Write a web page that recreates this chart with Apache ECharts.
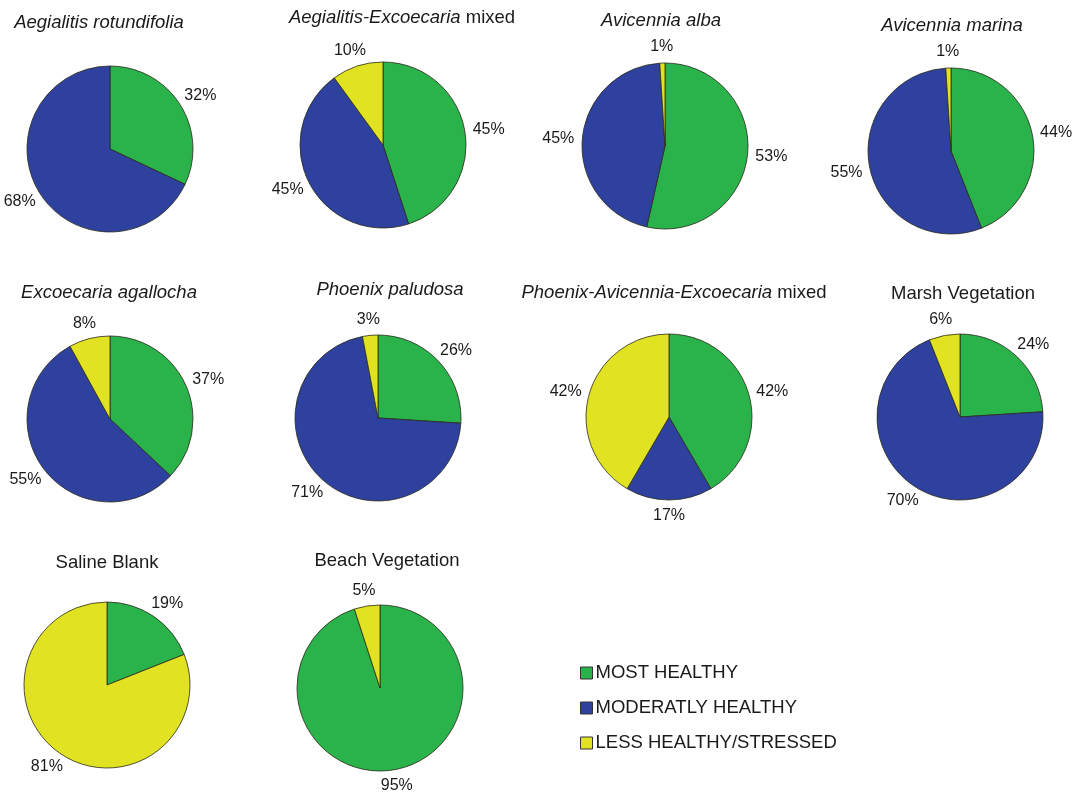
<!DOCTYPE html>
<html>
<head>
<meta charset="utf-8">
<script src="https://cdn.jsdelivr.net/npm/echarts@6/dist/echarts.min.js"></script>
<style>
  html, body { margin: 0; padding: 0; background: #ffffff; }
  #chart { width: 1075px; height: 796px; }
</style>
</head>
<body>
<div id="chart"></div>
<script>
// Vegetation health classes, share (%) per vegetation type
const categories = ['MOST HEALTHY', 'MODERATLY HEALTHY', 'LESS HEALTHY/STRESSED'];

// Titles: italic part + plain suffix
const titleItalic = [
  'Aegialitis rotundifolia', 'Aegialitis-Excoecaria', 'Avicennia alba', 'Avicennia marina',
  'Excoecaria agallocha', 'Phoenix paludosa', 'Phoenix-Avicennia-Excoecaria', '',
  '', ''
];
const titlePlain = [
  '', ' mixed', '', '',
  '', '', ' mixed', 'Marsh Vegetation',
  'Saline Blank', 'Beach Vegetation'
];

const mostHealthy       = [32, 45, 53, 44, 37, 26, 42, 24, 19, 95];
const moderatelyHealthy = [68, 45, 45, 55, 55, 71, 17, 70, 0, 0];
const lessHealthy       = [0, 10, 1, 1, 8, 3, 42, 6, 81, 5];

const colors = ['#2AB24B', '#2F419F', '#E1E322'];

// Pie centres and title positions (pixels)
const pieCenters = [
  [110, 149], [383, 145], [665, 146], [951, 151],
  [110, 419], [378, 418], [669, 417], [960, 417],
  [107, 685], [380, 688]
];
const titleCenters = [
  [99, 22], [402, 17], [661, 20], [952, 25],
  [109, 292], [390, 289], [674, 292], [963, 293],
  [107, 562], [387, 560]
];
const radius = 83;
const labelGap = 8;

const textColor = '#1a1a1a';
const fontFamily = '"Liberation Sans", Arial, sans-serif';
const titleSize = 18.5;

const titles = titleCenters.map((c, i) => {
  let text = '';
  if (titleItalic[i]) text += '{i|' + titleItalic[i] + '}';
  if (titlePlain[i]) text += '{n|' + titlePlain[i] + '}';
  return {
    text: text,
    left: c[0],
    top: c[1] - 9,
    textAlign: 'center',
    padding: 0,
    textStyle: {
      fontFamily: fontFamily,
      fontSize: titleSize,
      fontWeight: 'normal',
      color: textColor,
      rich: {
        i: { fontStyle: 'italic', fontSize: titleSize, fontFamily: fontFamily, color: textColor },
        n: { fontStyle: 'normal', fontSize: titleSize, fontFamily: fontFamily, color: textColor }
      }
    }
  };
});

const seriesValues = [mostHealthy, moderatelyHealthy, lessHealthy];

// Per-pie slice lists (zero shares are not drawn)
const pieData = pieCenters.map((c, i) => {
  const data = [];
  categories.forEach((name, k) => {
    const v = seriesValues[k][i];
    if (v > 0) data.push({ name: name, value: v, itemStyle: { color: colors[k] } });
  });
  return data;
});

// Place each percentage label just outside the rim, along the slice's mid-angle,
// so the label box sits clear of the circle on the side facing the slice.
function placeLabel(params) {
  const s = params.seriesIndex;
  const data = pieData[s];
  const total = data.reduce((a, d) => a + d.value, 0);
  let before = 0;
  for (let j = 0; j < params.dataIndex; j++) before += data[j].value;
  const mid = (before + data[params.dataIndex].value / 2) / total * Math.PI * 2;
  const dx = Math.sin(mid);
  const dy = -Math.cos(mid);
  const c = pieCenters[s];
  const w = params.labelRect.width;
  const h = params.labelRect.height;
  const px = c[0] + dx * (radius + labelGap);
  const py = c[1] + dy * (radius + labelGap);
  return {
    x: px + dx * w / 2,
    y: py + dy * h / 2,
    align: 'center',
    verticalAlign: 'middle'
  };
}

const series = pieCenters.map((c, i) => ({
  type: 'pie',
  center: c,
  radius: radius,
  startAngle: 90,
  clockwise: true,
  avoidLabelOverlap: false,
  animation: false,
  itemStyle: { borderColor: '#2a2a1a', borderWidth: 0.8 },
  label: {
    show: true,
    position: 'outside',
    formatter: '{c}%',
    fontFamily: fontFamily,
    fontSize: 16,
    color: textColor
  },
  labelLine: { show: false, length: 4, length2: 0 },
  labelLayout: placeLabel,
  emphasis: { disabled: true },
  data: pieData[i]
}));

const chart = echarts.init(document.getElementById('chart'), null, { renderer: 'canvas' });
chart.setOption({
  backgroundColor: '#ffffff',
  animation: false,
  color: colors,
  title: titles,
  legend: {
    orient: 'vertical',
    left: 580,
    top: 663,
    padding: 0,
    data: categories,
    icon: 'rect',
    itemWidth: 12,
    itemHeight: 12,
    itemGap: 15,
    selectedMode: false,
    itemStyle: { borderColor: '#333', borderWidth: 1 },
    textStyle: { fontFamily: fontFamily, fontSize: 18.5, lineHeight: 20, color: textColor, padding: [0, 0, 0, -2] }
  },
  series: series
});
</script>
</body>
</html>
